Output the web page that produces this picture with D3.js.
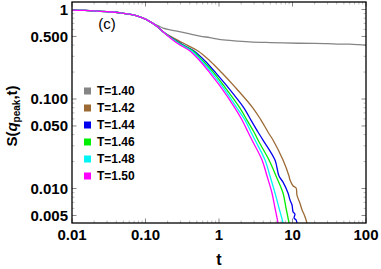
<!DOCTYPE html>
<html><head><meta charset="utf-8">
<script src="https://cdn.jsdelivr.net/npm/d3@7"></script>
<style>body{margin:0;background:#fff}svg{display:block}</style>
</head><body>
<script>
// ---- data ----
const xTicks = [0.01, 0.1, 1, 10, 100];
const xTickLabels = ["0.01", "0.10", "1", "10", "100"];
const yTicks = [1, 0.5, 0.1, 0.05, 0.01, 0.005];
const yTickLabels = ["1", "0.500", "0.100", "0.050", "0.010", "0.005"];
const seriesNames = ["T=1.40", "T=1.42", "T=1.44", "T=1.46", "T=1.48", "T=1.50"];
const seriesColors = ["#858585", "#9c6a35", "#0000ee", "#00ee00", "#00f4f4", "#ff00ff"];

const tEarly = [0.01, 0.015, 0.02, 0.03, 0.045, 0.06, 0.08, 0.1, 0.126];
const sEarly = [0.985, 0.977, 0.966, 0.945, 0.918, 0.888, 0.84, 0.78, 0.70];

const t140 = [0.15, 0.173, 0.21, 0.268, 0.40, 0.55, 0.75, 1.0, 1.5, 2.6, 5, 12, 20, 30, 44, 60, 80, 100];
const s140 = [0.655, 0.62, 0.595, 0.572, 0.535, 0.505, 0.485, 0.465, 0.45, 0.435, 0.427, 0.42, 0.418, 0.415, 0.41, 0.41, 0.405, 0.40];

const t142 = [0.15, 0.173, 0.324, 0.518, 0.755, 1.10, 1.60, 2.90, 3.73, 4.64, 5.43, 7.43, 8.96, 9.25, 10.2, 11.2, 11.5, 12.6, 13.5, 14.3, 15.3, 15.7, 16.8];
const s142 = [0.63, 0.565, 0.422, 0.344, 0.266, 0.195, 0.140, 0.0793, 0.0582, 0.0428, 0.0348, 0.0208, 0.0138, 0.01245, 0.01067, 0.01013, 0.00846, 0.00689, 0.00575, 0.00518, 0.00445, 0.00412, 0.00327];

const t144 = [0.15, 0.173, 0.294, 0.457, 0.646, 0.91, 1.28, 2.19, 2.72, 3.39, 3.97, 5.78, 6.55, 7.43, 8.69, 9.25, 9.85, 10.2, 10.8, 10.5, 11.2, 11.5, 11.9];
const s144 = [0.63, 0.565, 0.422, 0.344, 0.266, 0.195, 0.140, 0.0793, 0.0582, 0.0428, 0.0348, 0.0208, 0.0138, 0.0118, 0.00891, 0.00744, 0.00654, 0.00546, 0.00518, 0.00468, 0.00445, 0.00412, 0.00344];

const t146 = [0.15, 0.173, 0.286, 0.443, 0.605, 0.855, 1.17, 1.93, 2.40, 2.99, 3.39, 4.79, 5.97, 7.43, 8.16, 8.96, 9.54];
const s146 = [0.63, 0.565, 0.422, 0.344, 0.266, 0.195, 0.140, 0.0793, 0.0582, 0.0428, 0.0348, 0.0208, 0.0138, 0.00891, 0.00606, 0.00412, 0.00302];

const t148 = [0.15, 0.173, 0.277, 0.423, 0.578, 0.804, 1.10, 1.76, 2.26, 2.72, 3.09, 4.23, 4.94, 5.78, 6.55, 7.43, 7.91];
const s148 = [0.63, 0.565, 0.422, 0.344, 0.266, 0.195, 0.140, 0.0793, 0.0582, 0.0428, 0.0348, 0.0208, 0.0138, 0.00891, 0.00606, 0.00412, 0.00302];

const t150 = [0.15, 0.173, 0.268, 0.403, 0.551, 0.755, 1.03, 1.65, 2.06, 2.48, 2.81, 3.85, 4.50, 5.26, 5.78, 6.35, 6.76];
const s150 = [0.63, 0.565, 0.422, 0.344, 0.266, 0.195, 0.140, 0.0793, 0.0582, 0.0428, 0.0348, 0.0208, 0.0138, 0.00891, 0.00606, 0.00412, 0.00302];

const tSeries = [t140, t142, t144, t146, t148, t150];
const sSeries = [s140, s142, s144, s146, s148, s150];

// ---- layout ----
const W = 381, H = 269;
const L = 72, R = 366, T = 2, B = 223;
const svg = d3.select("body").append("svg").attr("width", W).attr("height", H)
  .style("font-family", "'Liberation Sans', Arial, sans-serif");

const x = d3.scaleLog().domain([0.01, 100]).range([L, R]);
const y = d3.scaleLog().domain([1.213, 0.00412]).range([T, B]);

svg.append("defs").append("clipPath").attr("id", "clip")
  .append("rect").attr("x", L).attr("y", T).attr("width", R - L).attr("height", B - T);

// minor and major ticks
const xMinor = [];
for (let e = -2; e < 2; e++) for (let k = 2; k <= 9; k++) xMinor.push(k * Math.pow(10, e));
const yMinor = [];
for (let e = -3; e <= 0; e++) for (let k = 1; k <= 9; k++) {
  const v = k * Math.pow(10, e);
  if (v >= 0.00412 && v <= 1.2 && !yTicks.includes(+v.toPrecision(3))) yMinor.push(v);
}
const tg = svg.append("g");
function vtick(v, len, col) {
  tg.append("line").attr("x1", x(v)).attr("x2", x(v)).attr("y1", B).attr("y2", B - len).attr("stroke", col);
  tg.append("line").attr("x1", x(v)).attr("x2", x(v)).attr("y1", T).attr("y2", T + len).attr("stroke", col);
}
function htick(v, len, col) {
  tg.append("line").attr("y1", y(v)).attr("y2", y(v)).attr("x1", L).attr("x2", L + len).attr("stroke", col);
  tg.append("line").attr("y1", y(v)).attr("y2", y(v)).attr("x1", R).attr("x2", R - len).attr("stroke", col);
}
xMinor.forEach(v => vtick(v, 2.5, "#bbb"));
xTicks.forEach(v => vtick(v, 4.5, "#888"));
yMinor.forEach(v => htick(v, 2.5, "#bbb"));
yTicks.forEach(v => htick(v, 4.5, "#888"));

// lines
const line = d3.line().x(d => x(d[0])).y(d => y(d[1])).curve(d3.curveCatmullRom.alpha(0.5));
const plot = svg.append("g").attr("clip-path", "url(#clip)");
tSeries.forEach((ts, i) => {
  let pts = tEarly.map((t, j) => [t, sEarly[j]]);
  pts = pts.concat(ts.map((t, j) => [t, sSeries[i][j]]));
  plot.append("path").attr("d", line(pts)).attr("fill", "none")
    .attr("stroke", seriesColors[i]).attr("stroke-width", 1.3).attr("stroke-linejoin", "round");
});

// frame
svg.append("rect").attr("x", L).attr("y", T).attr("width", R - L).attr("height", B - T)
  .attr("fill", "none").attr("stroke", "#000").attr("stroke-width", 1.3);

// tick labels
svg.append("g").selectAll("text").data(xTicks).join("text")
  .attr("x", d => x(d)).attr("y", 240).attr("text-anchor", "middle")
  .attr("font-size", 15).attr("font-weight", "bold").text((d, i) => xTickLabels[i]);
svg.append("g").selectAll("text").data(yTicks).join("text")
  .attr("x", 68).attr("y", d => y(d) + 5.3).attr("text-anchor", "end")
  .attr("font-size", 15).attr("font-weight", "bold").text((d, i) => yTickLabels[i]);

// axis titles
svg.append("text").attr("x", x(1)).attr("y", 265).attr("text-anchor", "middle")
  .attr("font-size", 16).attr("font-weight", "bold").text("t");
const yl = svg.append("text").attr("transform", "translate(17,116) rotate(-90)")
  .attr("text-anchor", "middle").attr("font-size", 15).attr("font-weight", "bold");
yl.append("tspan").text("S(");
yl.append("tspan").attr("font-style", "italic").text("q");
yl.append("tspan").attr("font-size", 10).attr("dy", 3).text("peak");
yl.append("tspan").attr("dy", -3).text(",t)");

// panel label
svg.append("text").attr("x", 107).attr("y", 29).attr("text-anchor", "middle")
  .attr("font-size", 15).text("(c)");

// legend
const lg = svg.append("g");
seriesNames.forEach((n, i) => {
  const cy = 91 + i * 17;
  lg.append("rect").attr("x", 84).attr("y", cy - 3.5).attr("width", 7).attr("height", 7).attr("fill", seriesColors[i]);
  lg.append("text").attr("x", 97).attr("y", cy + 4.3).attr("font-size", 12).attr("font-weight", "bold").text(n);
});
</script>
</body></html>
